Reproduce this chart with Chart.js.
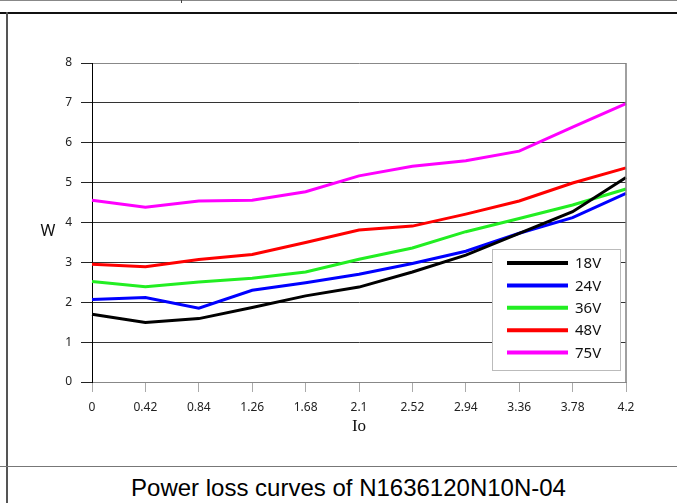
<!DOCTYPE html>
<html>
<head>
<meta charset="utf-8">
<script src="https://cdn.jsdelivr.net/npm/chart.js@4"></script>
<style>
  html, body { margin: 0; padding: 0; background: #fff; }
  body { width: 677px; height: 503px; position: relative; overflow: hidden; }
  #wrap { position: absolute; left: 0; top: 0; width: 677px; height: 466px; }
  .hline { position: absolute; left: 0; width: 677px; }
  .vline { position: absolute; }
  #caption {
    position: absolute; left: 0; top: 468px; width: 697px; height: 35px;
    text-align: center; font-family: "Liberation Sans", Arial, sans-serif;
    font-size: 24px; line-height: 40px; color: #000;
  }
</style>
</head>
<body>
<div class="hline" style="top:0; height:1px; background:#888;"></div>
<div class="vline" style="left:181px; top:0; width:1px; height:3px; background:#444;"></div>
<div class="hline" style="top:12px; height:2px; background:#111;"></div>
<div class="vline" style="left:6px; top:12px; width:2px; height:491px; background:#555;"></div>
<div class="hline" style="top:466px; height:1px; background:#777;"></div>
<div id="wrap"><canvas id="lossChart" width="677" height="466"></canvas></div>
<div id="caption">Power loss curves of N1636120N10N-04</div>

<script>
const ioLabels = ['0', '0.42', '0.84', '1.26', '1.68', '2.1', '2.52', '2.94', '3.36', '3.78', '4.2'];
const seriesNames = ['18V', '24V', '36V', '48V', '75V'];
const seriesColors = ['#000000', '#0000ff', '#22ee22', '#ff0000', '#ff00ff'];

const loss18 = [1.70, 1.49, 1.59, 1.87, 2.16, 2.38, 2.76, 3.18, 3.73, 4.27, 5.13];
const loss24 = [2.07, 2.12, 1.85, 2.30, 2.49, 2.70, 2.97, 3.28, 3.73, 4.12, 4.73];
const loss36 = [2.52, 2.39, 2.51, 2.60, 2.76, 3.08, 3.36, 3.77, 4.10, 4.44, 4.84];
const loss48 = [2.95, 2.89, 3.07, 3.20, 3.50, 3.81, 3.91, 4.21, 4.54, 4.99, 5.37];
const loss75 = [4.56, 4.38, 4.54, 4.56, 4.77, 5.17, 5.41, 5.55, 5.79, 6.39, 6.98];

const allSeries = [loss18, loss24, loss36, loss48, loss75];

// axis titles, right frame line and the boxed legend
const extras = {
  id: 'extras',
  afterDraw(chart) {
    const ctx = chart.ctx;
    const area = chart.chartArea;
    ctx.save();

    ctx.strokeStyle = '#808080';
    ctx.lineWidth = 1.5;
    ctx.beginPath();
    ctx.moveTo(area.right, area.top);
    ctx.lineTo(area.right, area.bottom);
    ctx.stroke();

    ctx.fillStyle = '#111';
    ctx.textAlign = 'center';
    ctx.textBaseline = 'middle';
    ctx.font = '16px "Noto Sans", sans-serif';
    ctx.fillText('W', 48, 231);
    ctx.font = '17px "Liberation Serif", serif';
    ctx.fillText('Io', (area.left + area.right) / 2, 427);

    // legend box
    const bx = 492, by = 249, bw = 128, bh = 121;
    ctx.fillStyle = '#fff';
    ctx.fillRect(bx, by, bw, bh);
    ctx.strokeStyle = '#bbb';
    ctx.lineWidth = 1;
    ctx.strokeRect(bx + 0.5, by + 0.5, bw, bh);

    ctx.font = '15px "Noto Sans", sans-serif';
    ctx.textAlign = 'left';
    chart.data.datasets.forEach((ds, i) => {
      const y = 263 + i * 22.4;
      ctx.strokeStyle = ds.borderColor;
      ctx.lineWidth = 4;
      ctx.beginPath();
      ctx.moveTo(507, y);
      ctx.lineTo(568, y);
      ctx.stroke();
      ctx.fillStyle = '#111';
      ctx.fillText(ds.label, 575, y + 1);
    });
    ctx.restore();
  }
};

new Chart(document.getElementById('lossChart').getContext('2d'), {
  type: 'line',
  data: {
    labels: ioLabels,
    datasets: allSeries.map((vals, i) => ({
      label: seriesNames[i],
      data: vals,
      borderColor: seriesColors[i],
      backgroundColor: seriesColors[i],
      borderWidth: 3,
      pointRadius: 0,
      tension: 0,
      fill: false
    }))
  },
  options: {
    responsive: false,
    animation: false,
    layout: { padding: { left: 0, top: 63, right: 51, bottom: 0 } },
    plugins: {
      legend: { display: false },
      tooltip: { enabled: false }
    },
    scales: {
      x: {
        type: 'category',
        offset: false,
        afterFit(scale) { scale.height = 84; },
        grid: { drawOnChartArea: false, drawTicks: true, tickLength: 10, tickColor: '#aaa' },
        border: { color: '#888', width: 1 },
        ticks: {
          color: '#222',
          font: { family: '"Noto Sans", sans-serif', size: 12 },
          padding: 8,
          maxRotation: 0,
          autoSkip: false
        }
      },
      y: {
        min: 0,
        max: 8,
        afterFit(scale) { scale.width = 92; },
        grid: {
          color: ctx => ctx.tick && ctx.tick.value === 8 ? '#888' : '#333',
          tickColor: '#222',
          tickLength: 11
        },
        border: { color: '#000', width: 1 },
        ticks: {
          stepSize: 1,
          color: '#222',
          font: { family: '"Noto Sans", sans-serif', size: 12 },
          padding: 9
        }
      }
    }
  },
  plugins: [extras]
});
</script>
</body>
</html>
